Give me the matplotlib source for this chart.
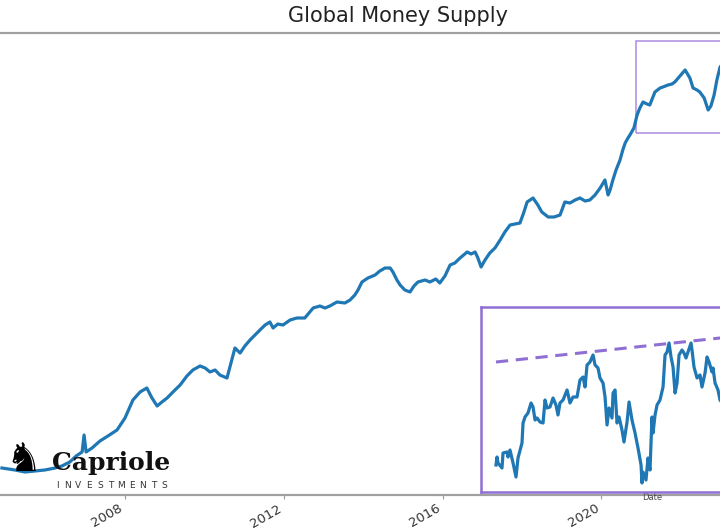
import matplotlib.pyplot as plt
from matplotlib.patches import Rectangle

# main series: global money supply (trillion USD, decimal year)
years = [2004.90, 2005.23, 2005.48, 2005.73, 2005.98, 2006.24, 2006.41, 2006.61, 2006.77, 2006.92,
         2006.97, 2007.02, 2007.17, 2007.37, 2007.57, 2007.80, 2008.00, 2008.20, 2008.38, 2008.55,
         2008.68, 2008.81, 2008.93, 2009.06, 2009.26, 2009.39, 2009.56, 2009.71, 2009.89, 2010.02,
         2010.14, 2010.27, 2010.39, 2010.57, 2010.77, 2010.90, 2011.02, 2011.15, 2011.40, 2011.53,
         2011.65, 2011.73, 2011.85, 2011.98, 2012.16, 2012.33, 2012.53, 2012.74, 2012.91, 2013.04,
         2013.16, 2013.34, 2013.54, 2013.67, 2013.79, 2013.87, 2013.97, 2014.12, 2014.30, 2014.42,
         2014.55, 2014.68, 2014.75, 2014.85, 2014.93, 2015.05, 2015.18, 2015.28, 2015.38, 2015.56,
         2015.68, 2015.83, 2015.93, 2016.06, 2016.19, 2016.31, 2016.44, 2016.62, 2016.72, 2016.82,
         2016.89, 2016.97, 2017.07, 2017.19, 2017.32, 2017.45, 2017.57, 2017.70, 2017.82, 2017.95,
         2018.05, 2018.13, 2018.28, 2018.40, 2018.50, 2018.66, 2018.81, 2018.96, 2019.08, 2019.21,
         2019.34, 2019.46, 2019.59, 2019.71, 2019.84, 2019.97, 2020.09, 2020.17, 2020.22, 2020.29,
         2020.37, 2020.47, 2020.54, 2020.60, 2020.67, 2020.72, 2020.82, 2020.90, 2020.97, 2021.05,
         2021.15, 2021.22, 2021.30, 2021.35, 2021.48, 2021.55, 2021.68, 2021.78, 2021.85, 2021.98,
         2022.11, 2022.23, 2022.31, 2022.41, 2022.48, 2022.59, 2022.69, 2022.76, 2022.84, 2022.91,
         2022.99, 2023.14]
supply = [44.05, 43.75, 43.45, 43.60, 43.75, 44.05, 44.35, 44.95, 45.85, 46.45,
          49.00, 46.45, 47.05, 48.10, 48.85, 49.75, 51.55, 54.25, 55.45, 56.05,
          54.55, 53.35, 53.95, 54.55, 55.75, 56.50, 57.85, 58.75, 59.35, 59.05,
          58.45, 58.75, 58.00, 57.55, 62.05, 61.30, 62.35, 63.25, 64.75, 65.50,
          65.95, 65.05, 65.65, 65.50, 66.25, 66.55, 66.55, 68.05, 68.35, 68.05,
          68.35, 68.95, 68.80, 69.25, 70.00, 70.75, 71.95, 72.55, 73.00, 73.60,
          74.05, 74.05, 73.45, 72.25, 71.50, 70.75, 70.45, 71.35, 71.95, 72.25,
          71.95, 72.40, 71.80, 72.85, 74.50, 74.80, 75.55, 76.45, 76.15, 76.45,
          75.55, 74.20, 75.25, 76.30, 77.05, 78.25, 79.45, 80.50, 80.65, 80.80,
          82.45, 83.95, 84.55, 83.50, 82.45, 81.70, 81.70, 82.00, 83.95, 83.80,
          84.25, 84.55, 84.10, 84.25, 85.00, 86.05, 87.25, 85.00, 85.75, 87.25,
          88.75, 90.25, 91.75, 92.80, 93.55, 94.00, 95.05, 97.00, 98.05, 98.95,
          98.65, 98.50, 99.70, 100.45, 101.05, 101.20, 101.50, 101.65, 101.95, 102.85,
          103.75, 102.55, 101.05, 100.75, 100.45, 99.55, 97.75, 98.35, 100.00, 102.25,
          104.20, 105.25]

# zoomed inset series
inset_years = [2021.000, 2021.013, 2021.025, 2021.075, 2021.088, 2021.138, 2021.150, 2021.175, 2021.213, 2021.250,
               2021.275, 2021.325, 2021.338, 2021.363, 2021.400, 2021.438, 2021.463, 2021.488, 2021.513, 2021.550,
               2021.588, 2021.613, 2021.638, 2021.675, 2021.713, 2021.750, 2021.775, 2021.800, 2021.838, 2021.888,
               2021.925, 2021.963, 2022.013, 2022.050, 2022.088, 2022.113, 2022.138, 2022.175, 2022.213, 2022.238,
               2022.275, 2022.300, 2022.338, 2022.363, 2022.388, 2022.413, 2022.450, 2022.463, 2022.488, 2022.513,
               2022.538, 2022.575, 2022.600, 2022.638, 2022.663, 2022.700, 2022.738, 2022.775, 2022.813, 2022.825,
               2022.838, 2022.875, 2022.900, 2022.925, 2022.950, 2022.963, 2022.988, 2023.013, 2023.050, 2023.088,
               2023.113, 2023.138, 2023.163, 2023.188, 2023.213, 2023.238, 2023.263, 2023.288, 2023.325, 2023.350,
               2023.375, 2023.400, 2023.438, 2023.450, 2023.475, 2023.513, 2023.550, 2023.575, 2023.613, 2023.638,
               2023.663, 2023.700, 2023.713, 2023.738, 2023.775, 2023.800, 2023.850]
inset_supply = [95.62, 96.10, 95.74, 95.44, 96.34, 96.40, 96.10, 96.52, 95.74, 94.90,
                96.04, 96.94, 98.14, 98.50, 98.74, 99.34, 99.10, 98.32, 98.44, 98.20,
                98.14, 99.52, 99.04, 99.10, 99.64, 99.22, 98.62, 99.34, 99.52, 100.12,
                99.34, 99.70, 99.70, 100.72, 100.90, 100.30, 101.62, 101.80, 102.22, 101.62,
                101.44, 100.84, 100.54, 99.70, 98.02, 99.04, 98.44, 99.94, 100.12, 98.14,
                98.50, 97.72, 97.00, 98.20, 99.40, 98.32, 97.54, 96.64, 95.62, 94.54,
                95.20, 94.72, 96.04, 95.32, 98.50, 97.54, 98.62, 99.22, 99.52, 100.30,
                102.22, 102.40, 102.94, 102.10, 101.50, 99.94, 100.54, 102.22, 102.52, 102.34,
                102.04, 102.40, 102.94, 102.52, 101.50, 100.84, 101.02, 100.30, 101.14, 102.10,
                101.80, 101.20, 101.44, 100.54, 100.12, 99.52, 99.22]

# resistance trend line on the inset
trend_years = [2021.0, 2024.5]
trend_values = [101.8, 103.6]

tick_years = [2008, 2012, 2016, 2020]

blue = '#1f77b4'
purple = '#8f6fd3'

fig = plt.figure(figsize=(7.2, 5.3), dpi=100)

# main axes runs past both edges of the picture
ax = fig.add_axes([-36 / 720, 35 / 530, 868 / 720, 462 / 530])
ax.plot(years, supply, color=blue, lw=2.3)
ax.set_xlim(2003.945, 2025.81)
ax.set_ylim(40, 109.3)
ax.set_xticks(tick_years)
ax.set_xticklabels([str(y) for y in tick_years], rotation=30, ha='right',
                   fontsize=9.5, color='#333333')
ax.tick_params(axis='x', length=3, color='#999999', pad=2)
ax.set_yticks([])
for side in ['top', 'bottom']:
    ax.spines[side].set_color('#a0a0a0')
    ax.spines[side].set_linewidth(1.6)
for side in ['left', 'right']:
    ax.spines[side].set_visible(False)

# box marking the zoomed region
ax.add_patch(Rectangle((2020.87, 94.3), 5, 13.8, fill=False,
                       edgecolor='#b394e3', lw=1.2))

fig.text(398 / 720, 1 - 16 / 530, 'Global Money Supply', fontsize=15,
         ha='center', va='center', color='#222222')

# inset
ax_in = fig.add_axes([481 / 720, 38 / 530, 342 / 720, 185 / 530])
ax_in.plot(inset_years, inset_supply, color=blue, lw=2.3)
ax_in.plot(trend_years, trend_values, color=purple, lw=2.2, ls=(0, (4, 2.5)))
ax_in.set_xlim(2020.8125, 2025.0875)
ax_in.set_ylim(94, 105.1)
ax_in.set_xticks([])
ax_in.set_yticks([])
for s in ax_in.spines.values():
    s.set_color(purple)
    s.set_linewidth(1.8)
ax_in.set_xlabel('Date', fontsize=6, labelpad=1, color='#444444')

# logo
fig.text(24 / 720, 1 - 460 / 530, '\u265e', fontsize=29, ha='center', va='center', color='black')
fig.text(52 / 720, 1 - 470 / 530, 'Capriole', fontsize=18, fontweight='bold',
         family='DejaVu Serif', ha='left', va='baseline', color='#111111')
for i, ch in enumerate('INVESTMENTS'):
    fig.text((57 + i * 10.7) / 720, 1 - 486 / 530, ch, fontsize=6.5,
             ha='center', va='center', color='#333333')

fig.savefig('out.png', dpi=100)
